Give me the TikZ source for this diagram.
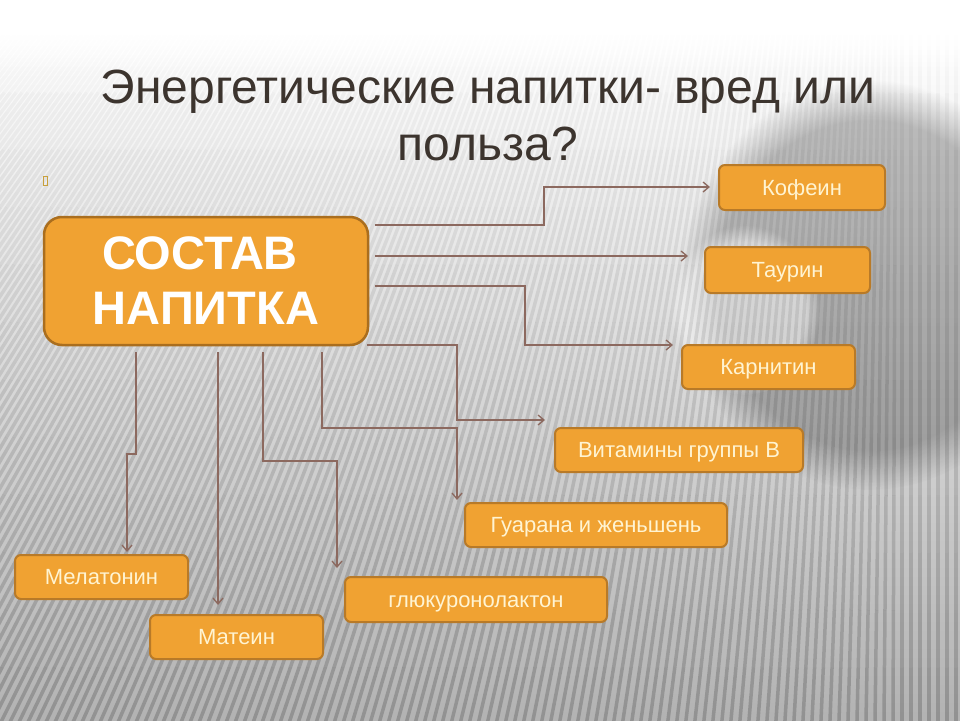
\documentclass[tikz,border=0pt]{standalone}
\usepackage{fontspec}
\setmainfont{Liberation Sans}
\usetikzlibrary{arrows.meta,fadings}
\tikzfading[name=whitefade, top color=transparent!0, bottom color=transparent!100]
\definecolor{boxfill}{RGB}{240,162,50}
\definecolor{boxline}{RGB}{184,122,40}
\definecolor{mainline}{RGB}{170,110,30}
\definecolor{boxtext}{RGB}{255,244,210}
\definecolor{conncol}{RGB}{140,105,95}
\definecolor{titlecol}{RGB}{60,52,46}
\definecolor{glyphcol}{RGB}{200,160,60}
\begin{document}
\begin{tikzpicture}[x=1pt,y=-1pt,
  item/.style={draw=boxline, fill=boxfill, line width=2pt, rounded corners=6pt,
    text=boxtext, font=\fontsize{22}{26}\selectfont, inner sep=0pt,
    text height=15.75pt, text depth=0pt},
  conn/.style={draw=conncol, line width=1.3pt, -{Straight Barb[length=6pt,width=10pt]}},
  titletext/.style={font=\fontsize{48}{57}\selectfont, text=titlecol, anchor=base, inner sep=0pt}]
\useasboundingbox (0,0) rectangle (960,720);
% background
\fill[white] (0,0) rectangle (960,720);
\shade[top color=white, middle color=black!5, bottom color=black!30] (0,35) rectangle (960,720);
\begin{scope}
\clip (0,35) rectangle (960,720);
\fill[black, opacity=0.24, path fading=circle with fuzzy edge 20 percent] (870,285) ellipse (190 and 205);
\fill[white, opacity=0.5, path fading=circle with fuzzy edge 20 percent] (745,310) ellipse (75 and 85);
\foreach \x [evaluate=\x as \xt using {\x+0.4*max(900-\x,0)}] in {-700,-691,...,970}
  \foreach \k in {0,...,11}{
    \pgfmathsetmacro{\ya}{35+\k*57.5}
    \pgfmathsetmacro{\yb}{35+(\k+1)*57.5}
    \pgfmathsetmacro{\xa}{\xt+(\x-\xt)*(\ya/720)}
    \pgfmathsetmacro{\xb}{\xt+(\x-\xt)*(\yb/720)}
    \pgfmathsetmacro{\op}{0.025+0.014*\k}
    \draw[black, opacity=\op, line width=3.5pt] (\xa,\ya) -- (\xb,\yb);
  }
\end{scope}
\fill[white, path fading=whitefade] (0,34) rectangle (960,75);
\draw[glyphcol, line width=0.6pt] (43,176) rectangle (47,185);
% title
\node[titletext] (t1) at (488,103) {Энергетические напитки- вред или};
\node[titletext] (t2) at (488,160) {польза?};
% main box
\node[draw=mainline, fill=boxfill, line width=2.5pt, rounded corners=18pt,
  minimum width=324pt, minimum height=128pt, text=white,
  font=\bfseries\fontsize{47}{55}\selectfont, align=center] (m) at (206,281)
  {\raisebox{-3pt}{\hbox{СОСТАВ\kern12pt}}\\\raisebox{-3pt}{НАПИТКА}};
% item boxes
\node[item, minimum width=166pt, minimum height=45pt] (kof) at (802,187.5) {Кофеин};
\node[item, minimum width=165pt, minimum height=46pt] (tau) at (787.5,270) {Таурин};
\node[item, minimum width=173pt, minimum height=44pt] (kar) at (768.5,367) {Карнитин};
\node[item, minimum width=248pt, minimum height=44pt] (vit) at (679,450) {Витамины группы В};
\node[item, minimum width=262pt, minimum height=44pt] (gua) at (596,525) {Гуарана и женьшень};
\node[item, minimum width=262pt, minimum height=45pt] (glu) at (476,599.5) {глюкуронолактон};
\node[item, minimum width=173pt, minimum height=44pt] (mel) at (101.5,577) {Мелатонин};
\node[item, minimum width=173pt, minimum height=44pt] (mat) at (236.5,637) {Матеин};
% connector ends
\coordinate (s1) at (375,225); \coordinate (e1) at (710,187);
\coordinate (s2) at (375,256); \coordinate (e2) at (688,256);
\coordinate (s3) at (375,286); \coordinate (e3) at (673,345);
\coordinate (s4) at (367,345); \coordinate (e4) at (545,420);
\coordinate (s5) at (322,352); \coordinate (e5) at (457,500);
\coordinate (s6) at (263,352); \coordinate (e6) at (337,568);
\coordinate (s7) at (218,352); \coordinate (e7) at (218,605);
\coordinate (s8) at (136,352); \coordinate (e8) at (127,552);
% connectors
\draw[conn] (s1) -- (544,225) |- (e1);
\draw[conn] (s2) -- (e2);
\draw[conn] (s3) -- (525,286) |- (e3);
\draw[conn] (s4) -- (457,345) |- (e4);
\draw[conn] (s5) |- (457,428) -- (e5);
\draw[conn] (s6) |- (337,461) -- (e6);
\draw[conn] (s7) -- (e7);
\draw[conn] (s8) |- (127,454) -- (e8);
\end{tikzpicture}
\end{document}
